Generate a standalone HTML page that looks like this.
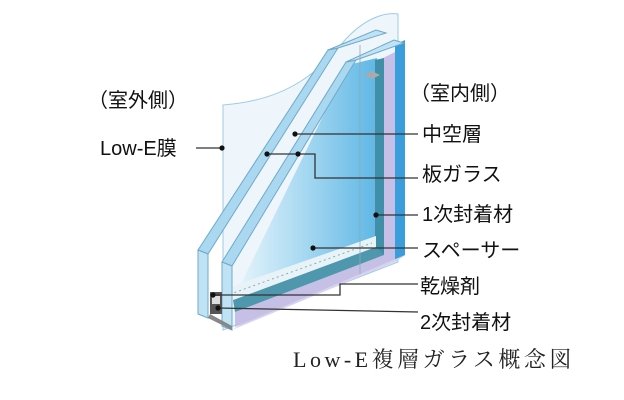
<!DOCTYPE html>
<html><head><meta charset="utf-8"><style>
html,body{margin:0;padding:0;background:#fff;}
svg{display:block;}
text{font-family:"Liberation Sans","Noto Sans CJK JP",sans-serif;font-size:20px;fill:#111;}
.cap{font-family:"Liberation Serif","Noto Serif CJK SC",serif;font-size:22px;fill:#222;letter-spacing:3.5px;}
</style></head><body>
<svg width="624" height="400" viewBox="0 0 624 400" xmlns="http://www.w3.org/2000/svg">
<defs>
<linearGradient id="g1" x1="0" y1="0" x2="1" y2="0">
<stop offset="0" stop-color="#eaf6fc"/><stop offset="0.5" stop-color="#a6d8f1"/><stop offset="1" stop-color="#5fb7e6"/>
</linearGradient>
</defs>
<path d="M223,105 C290,100 320,70 345,40 C365,18 385,12 398,14 L398,262 L223,330 Z" fill="#eef6fb" stroke="#9ccbe6" stroke-width="1"/>
<polygon points="383,58 395,52 395,262 235,327 235,312 383,255" fill="#c7c0e6"/>
<polygon points="395,45 405,40 405,255 395,262" fill="#3a9ddc"/>
<polygon points="233,300 348,65 377,58 377,247 233,300" fill="url(#g1)"/>
<polygon points="375,60 384,58 384,255 375,250" fill="#3f8fa8"/>
<polygon points="233,300 376,247 384,255 235,312" fill="#4f97ad"/>
<polygon points="222,290 376,236 376,247 233,300" fill="#e8f3f8"/>
<line x1="225" y1="296" x2="372" y2="243" stroke="#8ab" stroke-width="1" stroke-dasharray="2,3"/>
<line x1="373" y1="80" x2="373" y2="240" stroke="#8ab" stroke-width="1" stroke-dasharray="2,3"/>
<polygon points="222,262 346,62 356,60 232,266" fill="#a9d8f0" stroke="#6fa9c9" stroke-width="1"/>
<polygon points="222,262 232,266 232,330 222,326" fill="#bfe2f4" stroke="#6fa9c9" stroke-width="1"/>
<polygon points="346,62 356,60 404,43 394,40" fill="#bfe2f4" stroke="#6fa9c9" stroke-width="1"/>
<polygon points="198,250 328,50 338,48 208,254" fill="#a9d8f0" stroke="#6fa9c9" stroke-width="1"/>
<polygon points="198,250 208,254 208,318 198,314" fill="#bfe2f4" stroke="#6fa9c9" stroke-width="1"/>
<polygon points="328,50 338,48 386,33 376,30" fill="#bfe2f4" stroke="#6fa9c9" stroke-width="1"/>
<line x1="360" y1="45" x2="360" y2="275" stroke="#8ab" stroke-width="0.8"/>
<rect x="210" y="292" width="12" height="22" fill="#555"/>
<rect x="212" y="296" width="8" height="8" fill="#ddd"/>
<polygon points="208,318 232,330 232,326 210,314" fill="#888"/>
<polygon points="232,330 395,262 405,255 240,325" fill="#d8d2ef"/>
<polygon points="364,75 372,71 380,75 372,79" fill="#aaa"/>
<g stroke="#333" stroke-width="1.3" fill="none">
<line x1="196" y1="148" x2="222" y2="148"/>
<line x1="295" y1="134" x2="418" y2="134"/>
<polyline points="267,154 315,154 315,178 418,178"/>
<line x1="376" y1="215" x2="418" y2="215"/>
<line x1="313" y1="248" x2="418" y2="248"/>
<polyline points="213,295 340,295 340,284 418,284"/>
<line x1="218" y1="308" x2="418" y2="312"/>
</g>
<g fill="#111">
<circle cx="222" cy="148" r="2.6"/><circle cx="295" cy="134" r="2.6"/>
<circle cx="267" cy="154" r="2.6"/><circle cx="298" cy="154" r="2.6"/>
<circle cx="376" cy="215" r="2.6"/><circle cx="313" cy="248" r="2.6"/>
<circle cx="213" cy="295" r="2.6"/><circle cx="218" cy="308" r="2.6"/>
</g>
<text x="88" y="107">（室外側）</text>
<text x="100" y="155">Low-E膜</text>
<text x="410" y="100">（室内側）</text>
<text x="422" y="141">中空層</text>
<text x="422" y="181">板ガラス</text>
<text x="422" y="221">1次封着材</text>
<text x="422" y="257">スペーサー</text>
<text x="420" y="293">乾燥剤</text>
<text x="420" y="329">2次封着材</text>
<text class="cap" x="293" y="367">Low-E複層ガラス概念図</text>
</svg>
</body></html>
